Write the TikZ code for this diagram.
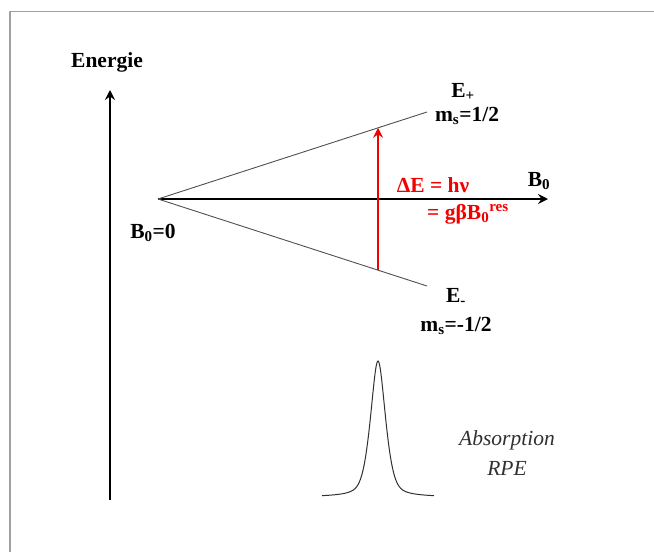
\documentclass[tikz,border=0pt]{standalone}
\usepackage{fontspec}
\setmainfont{Liberation Serif}
\usepackage{xcolor}
\usetikzlibrary{positioning, arrows.meta, calc}
\definecolor{framegray}{HTML}{A0A0A0}
\definecolor{levelgray}{HTML}{505050}
\definecolor{resred}{HTML}{F20000}
\definecolor{peakgray}{HTML}{303030}

\begin{document}
\begin{tikzpicture}[x=1pt, y=-1pt,
    lbl/.style={font=\fontsize{21.5}{24}\selectfont\bfseries, inner sep=1pt},
    redlbl/.style={lbl, text=resred},
    axis/.style={line width=1.5pt, -{Stealth[length=10pt, width=10pt, inset=3.5pt]}},
    level/.style={levelgray, line width=0.9pt},
    trans/.style={resred, line width=1.3pt, -{Stealth[length=10pt, width=10pt, inset=3.5pt]}}]
  \useasboundingbox (0,0) rectangle (654,552);
  % frame
  \draw[framegray, line width=1.2pt] (10,560) -- (10,11.5) -- (660,11.5);

  % axes
  \coordinate (ybot) at (110,500);
  \coordinate (ytop) at (110,90);
  \coordinate (O) at (158,199);
  \coordinate (xend) at (548,199);
  \draw[axis] (ybot) -- (ytop);
  \draw[axis] (O) -- (xend);
  \node[lbl] (energie) at (107,62) {Energie};
  \node[lbl] (bzero) at (539,181) {B\textsubscript{0}};
  \node[lbl] (origin) at (153,233) {B\textsubscript{0}=0};

  % Zeeman levels
  \coordinate (upend) at (427,112);
  \coordinate (lowend) at (427,286);
  \draw[level] (O) -- (upend);
  \draw[level] (O) -- (lowend);
  \node[lbl] (eplus) at (463,92) {E\textsubscript{+}};
  \node[lbl] (msplus) at (467,116) {m\textsubscript{s}=1/2};
  \node[lbl] (eminus) at (456,297) {E\textsubscript{-}};
  \node[lbl] (msminus) at (456,326) {m\textsubscript{s}=-1/2};

  % resonance transition
  \coordinate (resup) at ($(O)!0.818!(upend)$);
  \coordinate (reslow) at ($(O)!0.818!(lowend)$);
  \draw[trans] (reslow) -- (resup);
  \node[redlbl] (deltae) at (433,185) {ΔE = hν};
  \node[redlbl] (gbeta) at (468,214) {= gβB\textsubscript{0}\textsuperscript{res}};

  % absorption line
  \draw[peakgray, line width=1pt] plot[domain=-56:56, samples=160]
    ({378+\x}, {497-136*(0.5*exp(-(\x*\x)/128)+0.5/(1+(\x*\x)/64))});
  \node[font=\fontsize{21.5}{30}\selectfont\itshape, text=peakgray, align=center] (spectre) at (507,453) {Absorption\\RPE};
\end{tikzpicture}
\end{document}
